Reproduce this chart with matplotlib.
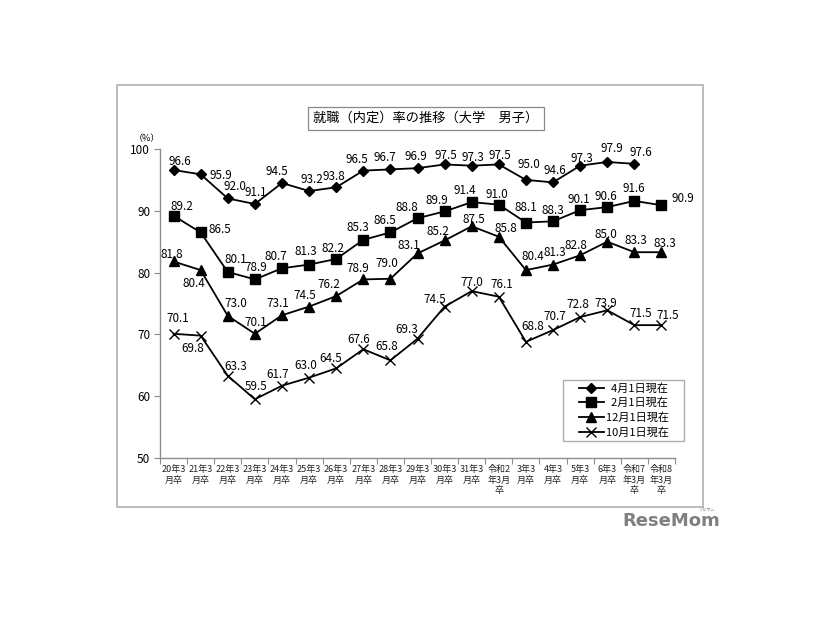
import numpy as np
import matplotlib
matplotlib.use("Agg")
import matplotlib.pyplot as plt
from matplotlib.patches import Rectangle
from matplotlib.legend_handler import HandlerLine2D

plt.rcParams['font.family'] = ['Noto Sans CJK JP', 'DejaVu Sans']

# ---------------- data ----------------
categories = ["20年3\n月卒", "21年3\n月卒", "22年3\n月卒", "23年3\n月卒", "24年3\n月卒",
              "25年3\n月卒", "26年3\n月卒", "27年3\n月卒", "28年3\n月卒", "29年3\n月卒",
              "30年3\n月卒", "31年3\n月卒", "令和2\n年3月\n卒", "3年3\n月卒", "4年3\n月卒",
              "5年3\n月卒", "6年3\n月卒", "令和7\n年3月\n卒", "令和8\n年3月\n卒"]

series_names = ["4月1日現在", "2月1日現在", "12月1日現在", "10月1日現在"]

apr1 = [96.6, 95.9, 92.0, 91.1, 94.5, 93.2, 93.8, 96.5, 96.7, 96.9,
        97.5, 97.3, 97.5, 95.0, 94.6, 97.3, 97.9, 97.6, np.nan]
feb1 = [89.2, 86.5, 80.1, 78.9, 80.7, 81.3, 82.2, 85.3, 86.5, 88.8,
        89.9, 91.4, 91.0, 88.1, 88.3, 90.1, 90.6, 91.6, 90.9]
dec1 = [81.8, 80.4, 73.0, 70.1, 73.1, 74.5, 76.2, 78.9, 79.0, 83.1,
        85.2, 87.5, 85.8, 80.4, 81.3, 82.8, 85.0, 83.3, 83.3]
oct1 = [70.1, 69.8, 63.3, 59.5, 61.7, 63.0, 64.5, 67.6, 65.8, 69.3,
        74.5, 77.0, 76.1, 68.8, 70.7, 72.8, 73.9, 71.5, 71.5]

yticks = [50, 60, 70, 80, 90, 100]

# label offsets (pixels, label centre relative to point; +y = up)
label_offsets = [
    [(6, 9), (20, -1), (7, 12), (1, 12), (-5, 11), (3, 12), (-2, 11), (-6, 11), (-6, 12), (-2, 12),
     (1, 9), (1, 8), (1, 9), (3, 15), (2, 12), (2, 7), (5, 13), (7, 11), (0, 0)],
    [(8, 9), (19, 3), (8, 12), (1, 12), (-6, 12), (-3, 13), (-3, 11), (-5, 12), (-6, 12), (-11, 11),
     (-8, 11), (-7, 12), (-2, 10), (0, 15), (0, 11), (-1, 11), (-1, 11), (-1, 12), (21, 7)],
    [(-2, 7), (-7, -13), (8, 12), (1, 11), (-4, 12), (-4, 11), (-7, 12), (-5, 11), (-4, 15), (-9, 8),
     (-7, 9), (2, 7), (7, 8), (7, 14), (2, 12), (-4, 10), (-1, 7), (2, 12), (3, 9)],
    [(4, 15), (-8, -13), (8, 9), (1, 13), (-4, 11), (-3, 12), (-5, 10), (-5, 10), (-4, 14), (-11, 9),
     (-10, 7), (0, 9), (3, 12), (7, 15), (2, 14), (-2, 13), (-1, 7), (6, 12), (6, 10)],
]

# ---------------- figure ----------------
W, H = 826, 620
fig = plt.figure(figsize=(W / 100, H / 100), dpi=100)

# outer frame
fig.add_artist(Rectangle((117 / W, 1 - 507 / H), (703 - 117) / W, (507 - 85) / H,
                         transform=fig.transFigure, fill=False, ec='#b5b5b5', lw=1.3))

ax = fig.add_axes([160 / W, 1 - 458 / H, (675 - 160) / W, (458 - 149) / H])
x = np.arange(len(categories))

styles = [dict(marker='D', ms=5.2), dict(marker='s', ms=7),
          dict(marker='^', ms=7), dict(marker='x', ms=7, mew=1.0)]
lines = []
for vals, name, st in zip([apr1, feb1, dec1, oct1], series_names, styles):
    ln, = ax.plot(x, vals, color='black', lw=1.3, mfc='black', mec='black', label=name, **st)
    lines.append(ln)

for vals, offs in zip([apr1, feb1, dec1, oct1], label_offsets):
    for i, v in enumerate(vals):
        if np.isnan(v):
            continue
        dx, dy = offs[i]
        ax.annotate(f"{v:.1f}", (i, v), xytext=(dx * 0.72, dy * 0.72),
                    textcoords='offset points', ha='center', va='center',
                    fontsize=8.4, color='black')

ax.set_xlim(-0.5, len(categories) - 0.5)
ax.set_ylim(50, 100)
ax.set_yticks(yticks)
ax.set_yticklabels([str(t) for t in yticks])
ax.set_xticks(x)
ax.set_xticklabels(categories, fontsize=6.5, color='#222222', linespacing=1.25, va='top')
ax.set_xticks(np.arange(-0.5, len(categories), 1), minor=True)
ax.tick_params(axis='x', which='major', length=0, pad=5)
ax.tick_params(axis='x', which='minor', length=4, width=0.8, color='#8c8c8c', direction='out')
ax.tick_params(axis='y', length=4, width=0.8, color='#8c8c8c', direction='out', labelsize=8.5, pad=3)
for s in ['top', 'right']:
    ax.spines[s].set_visible(False)
for s in ['left', 'bottom']:
    ax.spines[s].set_color('#8c8c8c')
    ax.spines[s].set_linewidth(1.0)
ax.patch.set_alpha(0)

ax.text(-0.05, 1.035, "（%）", transform=ax.transAxes, fontsize=6.5, ha='left', va='center')

# legend
leg_labels = ["  4月1日現在     ", "  2月1日現在     ", "12月1日現在     ", "10月1日現在     "]
leg = fig.legend(lines, leg_labels, loc='upper left', bbox_to_anchor=(563 / W, 1 - 380 / H),
                 frameon=True, fancybox=False, edgecolor='#9a9a9a', fontsize=8,
                 borderpad=0.25, labelspacing=0.38, handletextpad=0.2, handlelength=3.4,
                 borderaxespad=0,
                 handler_map={ln: HandlerLine2D(numpoints=1, xpad=1.15) for ln in lines})
leg.get_frame().set_linewidth(1.0)

# title
fig.text(426 / W, 1 - 118.5 / H, "就職（内定）率の推移（大学　男子）", ha='center', va='center',
         fontsize=9.5, bbox=dict(boxstyle='square,pad=0.4', fc='white', ec='#8a8a8a', lw=0.9))

# watermark
fig.text(671 / W, 1 - 521 / H, "ReseMom", ha='center', va='center', fontsize=13,
         fontweight='bold', color='#808080', family='DejaVu Sans')
fig.text(706 / W, 1 - 510 / H, "リセマム", ha='center', va='center', fontsize=3, color='#808080')

fig.savefig("out.png", dpi=100)
